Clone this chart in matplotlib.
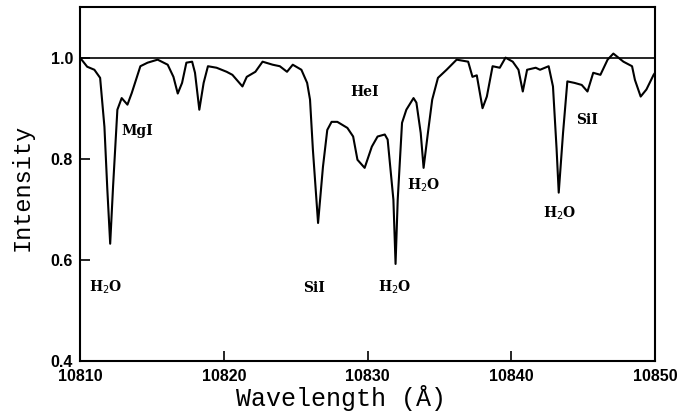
import matplotlib.pyplot as plt

# spectrum
wave = [10810.0, 10810.5, 10811.0, 10811.4, 10811.7, 10811.9, 10812.1, 10812.3, 10812.6,
        10812.9, 10813.3, 10813.6, 10814.2, 10814.7, 10815.4, 10816.1, 10816.5, 10816.8,
        10817.1, 10817.4, 10817.8, 10818.0, 10818.3, 10818.6, 10818.9, 10819.5, 10820.2,
        10820.6, 10821.3, 10821.6, 10822.2, 10822.7, 10823.4, 10823.9, 10824.4, 10824.8,
        10825.4, 10825.8, 10826.0, 10826.2, 10826.56, 10826.9, 10827.2, 10827.5, 10827.9,
        10828.6, 10829.0, 10829.3, 10829.8, 10830.3, 10830.7, 10831.2, 10831.4, 10831.8,
        10831.95, 10832.1, 10832.4, 10832.7, 10833.2, 10833.4, 10833.7, 10833.9, 10834.2,
        10834.5, 10834.9, 10835.5, 10836.2, 10837.0, 10837.3, 10837.6, 10838.0, 10838.3,
        10838.7, 10839.2, 10839.6, 10840.1, 10840.5, 10840.8, 10841.1, 10841.7, 10842.0,
        10842.6, 10842.9, 10843.15, 10843.3, 10843.6, 10843.9, 10844.4, 10844.9, 10845.3,
        10845.7, 10846.2, 10846.7, 10847.1, 10847.8, 10848.4, 10848.6, 10849.0, 10849.4,
        10849.9, 10850.0]
flux = [1.0, 0.982, 0.976, 0.96, 0.863, 0.74, 0.632, 0.745, 0.897,
        0.92, 0.907, 0.93, 0.983, 0.99, 0.996, 0.986, 0.962, 0.929,
        0.95, 0.99, 0.992, 0.97, 0.897, 0.95, 0.983, 0.98, 0.972,
        0.966, 0.943, 0.962, 0.972, 0.992, 0.986, 0.983, 0.972, 0.986,
        0.976, 0.95, 0.917, 0.818, 0.673, 0.784, 0.857, 0.873, 0.873,
        0.861, 0.844, 0.798, 0.782, 0.824, 0.844, 0.848, 0.838, 0.719,
        0.592, 0.719, 0.871, 0.897, 0.92, 0.911, 0.851, 0.782, 0.851,
        0.917, 0.96, 0.976, 0.996, 0.992, 0.962, 0.965, 0.90, 0.923,
        0.983, 0.98, 1.0, 0.992, 0.976, 0.933, 0.976, 0.98, 0.976,
        0.983, 0.943, 0.82, 0.733, 0.851, 0.953, 0.95, 0.946, 0.933,
        0.97, 0.966, 0.996, 1.008, 0.992, 0.983, 0.956, 0.923, 0.937,
        0.966, 0.97]

labels = ['H$_2$O', 'MgI', 'SiI', 'HeI', 'H$_2$O', 'H$_2$O', 'H$_2$O', 'SiI']
label_x = [10811.8, 10814.0, 10826.3, 10829.8, 10831.9, 10833.9, 10843.4, 10845.3]
label_y = [0.545, 0.855, 0.545, 0.933, 0.545, 0.747, 0.693, 0.877]

fig = plt.figure(figsize=(6.92, 4.15), dpi=100)
ax = fig.add_axes([0.1156, 0.130, 0.831, 0.853])

ax.plot(wave, flux, color='black', linewidth=1.5)
ax.axhline(1.0, color='black', linewidth=1.2)

for t, x, y in zip(labels, label_x, label_y):
    ax.text(x, y, t, ha='center', va='center', fontsize=10, fontweight='bold',
            family='DejaVu Serif')

ax.set_xlim(10810, 10850)
ax.set_ylim(0.4, 1.1)
ax.set_xticks([10810, 10820, 10830, 10840, 10850])
ax.set_yticks([0.4, 0.6, 0.8, 1.0])
ax.set_yticklabels(['0.4', '0.6', '0.8', '1.0'])
ax.tick_params(direction='in', length=7, width=1.2, labelsize=11.5)
ax.tick_params(axis='x', pad=6)
ax.tick_params(axis='y', pad=5)
for lab in ax.get_xticklabels() + ax.get_yticklabels():
    lab.set_fontweight('bold')
    lab.set_family('Liberation Sans')
for s in ax.spines.values():
    s.set_linewidth(1.5)

ax.set_xlabel('Wavelength (Å)', fontsize=18, family='Liberation Mono')
ax.xaxis.set_label_coords(0.454, -0.068)
ax.set_ylabel('Intensity', fontsize=17, family='Liberation Mono')
ax.yaxis.set_label_coords(-0.08, 0.49)

fig.savefig('out.png', dpi=100)
